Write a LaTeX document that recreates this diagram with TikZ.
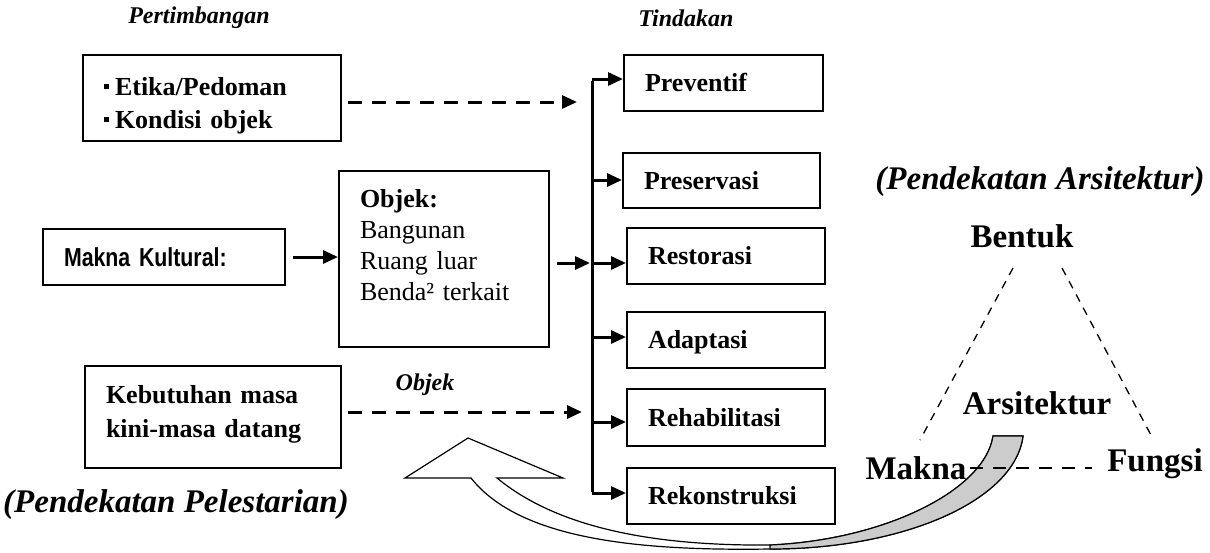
\documentclass[tikz,border=0pt]{standalone}
\usepackage{fontspec}
\setmainfont{Liberation Serif}
\newfontfamily\narrowsans[FakeStretch=0.82]{Liberation Sans}
\usetikzlibrary{arrows.meta}
\tikzset{
  frame/.style={draw, line width=2pt, anchor=north west, inner ysep=0pt, inner xsep=21pt, align=left},
  boxtext/.style={font=\fontsize{26}{33}\selectfont\bfseries},
  act/.style={frame, boxtext, text height=17.6pt, text depth=0pt, minimum height=56pt},
  flow/.style={line width=3pt, -{Triangle[length=15pt,width=13pt]}},
  dashflow/.style={flow, dash pattern=on 14pt off 10pt},
  caption/.style={font=\fontsize{24}{24}\selectfont\bfseries\itshape},
  big/.style={font=\fontsize{33}{33}\selectfont\bfseries},
  bigit/.style={font=\fontsize{33}{33}\selectfont\bfseries\itshape},
  tri/.style={line width=1.3pt, dash pattern=on 8pt off 7pt},
  hdash/.style={line width=2pt, dash pattern=on 13pt off 10pt},
}
\newcommand{\sqbullet}{\rule[6.5pt]{5pt}{5pt}\hspace{6pt}}
\begin{document}
\begin{tikzpicture}[x=1pt,y=-1pt]
\useasboundingbox (0,0) rectangle (1210,552);

% column headings
\node[caption] (pt) at (199,18) {Pertimbangan};
\node[caption] (td) at (686,18) {Tindakan};

% considerations and object boxes
\node[frame, boxtext, text width=216pt, minimum height=86pt, text height=18pt, text depth=24pt] (et) at (82,54)
  {\sqbullet Etika/Pedoman\\ \sqbullet Kondisi objek};
\node[frame, text width=200pt, font=\narrowsans\fontsize{26}{26}\selectfont\bfseries,
      minimum height=56pt, text height=19pt, text depth=0pt] (mk) at (42,228) {Makna Kultural:};
\node[frame, font=\fontsize{26}{31}\selectfont, text width=168pt, minimum height=176pt, text height=18pt, text depth=122pt] (obj) at (338,170)
  {\textbf{Objek:}\\ Bangunan\\ Ruang luar\\ Benda² terkait};
\node[frame, font=\fontsize{26}{34}\selectfont\bfseries, text width=214pt, minimum height=102pt, text height=18pt, text depth=46pt] (kb) at (84,365)
  {Kebutuhan masa\\ kini-masa datang};

% actions
\node[act, text width=157pt] (pv) at (623,54)  {Preventif};
\node[act, text width=155pt, minimum height=55pt] (ps) at (622,152) {Preservasi};
\node[act, text width=156pt] (rs) at (626,227) {Restorasi};
\node[act, text width=156pt] (ad) at (626,311) {Adaptasi};
\node[act, text width=156pt, minimum height=57pt] (rh) at (626,388) {Rehabilitasi};
\node[act, text width=166pt] (rk) at (626,467) {Rekonstruksi};

% distribution bus
\coordinate (b1) at (592,79);
\coordinate (b2) at (592,180);
\coordinate (b3) at (592,263);
\coordinate (b4) at (592,337);
\coordinate (b5) at (592,422);
\coordinate (b6) at (592,493);
\draw[line width=3pt] ([yshift=-1.5pt]b1) -- ([yshift=1.5pt]b6);
\draw[flow] (b1) -- (b1 -| pv.west);
\draw[flow] (b2) -- (b2 -| ps.west);
\draw[flow] (b3) -- (b3 -| rs.west);
\draw[flow] (b4) -- (b4 -| ad.west);
\draw[flow] (b5) -- (b5 -| rh.west);
\draw[flow] (b6) -- (b6 -| rk.west);

% inputs
\draw[flow, shorten <=7pt] (mk.east) -- (mk.east -| obj.west);
\draw[flow, shorten <=7pt, shorten >=2pt] (obj.east |- b3) -- (b3);
\coordinate (d1) at (577,102);
\coordinate (d2) at (582,412);
\draw[dashflow, shorten <=6pt] (et.east |- d1) -- (d1);
\draw[dashflow, shorten <=6pt] (kb.east |- d2) -- (d2);
\node[caption] (ol) at (425,385) {Objek};

\node[bigit] (pp) at (176,505) {(Pendekatan Pelestarian)};

% curved return arrow
\draw[line width=1.2pt, fill=white, line join=miter]
  (468,438) -- (563,478) -- (497,478)
  .. controls (560,530) and (660,546) .. (770,545)
  .. controls (885,540) and (985,490) .. (993,436)
  -- (1023,436)
  .. controls (1015,500) and (905,549) .. (770,549)
  .. controls (640,551) and (520,540) .. (471,478)
  -- (405,478) -- cycle;
\draw[line width=1.2pt, fill=black!20]
  (770,545) .. controls (885,540) and (985,490) .. (993,436)
  -- (1023,436)
  .. controls (1015,500) and (905,549) .. (770,549) -- cycle;

% architectural approach triangle
\node[bigit] (pa) at (1040,182) {(Pendekatan Arsitektur)};
\node[big] (bt) at (1022,236) {Bentuk};
\node[big] (ar) at (1037,403) {Arsitektur};
\node[big] (mkn) at (916,468) {Makna};
\node[big] (fg) at (1155,464) {Fungsi};
\coordinate (tl1) at (1013,268);
\coordinate (tl2) at (920,440);
\coordinate (tr1) at (1062,268);
\coordinate (tr2) at (1152,437);
\draw[tri] (tl1) -- (tl2);
\draw[tri] (tr1) -- (tr2);
\draw[hdash, shorten >=12pt] (mkn.east) -- (mkn.east -| fg.west);
\end{tikzpicture}
\end{document}
